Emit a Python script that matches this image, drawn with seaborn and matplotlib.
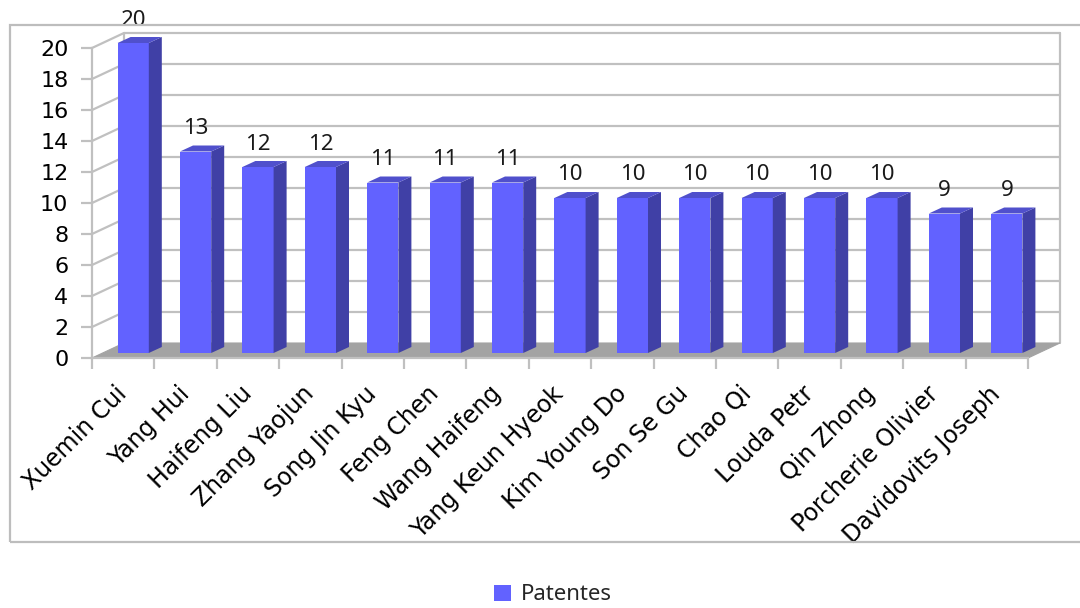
import numpy as np
import pandas as pd
import matplotlib
matplotlib.use("Agg")
import matplotlib.pyplot as plt
from matplotlib.patches import Polygon, Rectangle
from matplotlib.lines import Line2D
from matplotlib.transforms import ScaledTranslation
import seaborn as sns

inventors = ["Xuemin Cui", "Yang Hui", "Haifeng Liu", "Zhang Yaojun", "Song Jin Kyu",
             "Feng Chen", "Wang Haifeng", "Yang Keun Hyeok", "Kim Young Do", "Son Se Gu",
             "Chao Qi", "Louda Petr", "Qin Zhong", "Porcherie Olivier", "Davidovits Joseph"]
patents = [20, 13, 12, 12, 11, 11, 11, 10, 10, 10, 10, 10, 10, 9, 9]
y_ticks = list(range(0, 21, 2))
series_name = "Patentes"

df = pd.DataFrame({"inventor": inventors, "patents": patents})

sns.set_theme(style="white")
plt.rcParams["font.family"] = ["DejaVu Sans"]

W, H = 1080, 608
fig = plt.figure(figsize=(W / 100, H / 100), dpi=100)

# front plane of the 3D box, in pixels
x0_px, x1_px = 92, 1028
y0_px, y20_px = 358, 48
ax = fig.add_axes([x0_px / W, 1 - y0_px / H, (x1_px - x0_px) / W, (y0_px - y20_px) / H])
ax.set_facecolor("none")

n = len(inventors)
ax.set_xlim(-0.5, n - 0.5)
ax.set_ylim(0, 20)

px_x = n / (x1_px - x0_px)          # data units per pixel, horizontal
px_y = 20 / (y0_px - y20_px)        # data units per pixel, vertical

grid_c = "#C0C0C0"
grid_lw = 1.6

# depth of the walls (front -> back)
dx_w, dy_w = 32 * px_x, 15 * px_y
xl, xr = -0.5, n - 0.5
ymax = y_ticks[-1]

# floor
floor = Polygon([(xl, 0), (xr, 0), (xr + dx_w, dy_w), (xl + dx_w, dy_w)],
                closed=True, facecolor="#A3A3A3", edgecolor="#A3A3A3", lw=0.8,
                zorder=1, clip_on=False)
ax.add_patch(floor)

# back wall and left wall grid lines
for v in y_ticks:
    if v > 0:
        ax.add_line(Line2D([xl + dx_w, xr + dx_w], [v + dy_w, v + dy_w], color=grid_c,
                           lw=grid_lw, zorder=0.5, clip_on=False))
        ax.add_line(Line2D([xl, xl + dx_w], [v, v + dy_w], color=grid_c,
                           lw=grid_lw, zorder=0.5, clip_on=False))
for xx in (xl + dx_w, xr + dx_w):
    ax.add_line(Line2D([xx, xx], [dy_w, ymax + dy_w], color=grid_c, lw=grid_lw,
                       zorder=0.5, clip_on=False))

# bars (front faces) through seaborn
bar_w = 0.5
front_c = "#6262FF"
side_c = "#4040A6"
top_c = "#5050CC"
sns.barplot(data=df, x="inventor", y="patents", color=front_c, width=bar_w,
            saturation=1, ax=ax, zorder=3, legend=False)

# shift bars into the middle of the box and add side / top faces
off_x, off_y = 10 * px_x, 5 * px_y
dep_x, dep_y = 13 * px_x, 6 * px_y
for p in list(ax.patches):
    if not isinstance(p, Rectangle) or p.get_width() != bar_w:
        continue
    bx = p.get_x() + off_x
    bh = p.get_height()
    bw = p.get_width()
    p.set_x(bx)
    p.set_y(off_y)
    p.set_edgecolor("none")
    p.set_clip_on(False)
    side = Polygon([(bx + bw, off_y), (bx + bw + dep_x, off_y + dep_y),
                    (bx + bw + dep_x, bh + off_y + dep_y), (bx + bw, bh + off_y)],
                   closed=True, facecolor=side_c, edgecolor="none", zorder=3, clip_on=False)
    top = Polygon([(bx, bh + off_y), (bx + bw, bh + off_y),
                   (bx + bw + dep_x, bh + off_y + dep_y), (bx + dep_x, bh + off_y + dep_y)],
                  closed=True, facecolor=top_c, edgecolor="none", zorder=3, clip_on=False)
    ax.add_patch(side)
    ax.add_patch(top)

# value labels above each bar
for i, v in enumerate(patents):
    ax.annotate(str(v), xy=(i + off_x, v + off_y), xytext=(0, 9), textcoords="offset points",
                ha="center", va="bottom", fontsize=16, family=["Noto Sans"],
                color="#1a1a1a", annotation_clip=False)

# axes: front edges
for s in ("top", "right"):
    ax.spines[s].set_visible(False)
for s in ("left", "bottom"):
    ax.spines[s].set_color(grid_c)
    ax.spines[s].set_linewidth(grid_lw)
    ax.spines[s].set_zorder(2)

ax.set_yticks(y_ticks)
ax.set_yticklabels([str(v) for v in y_ticks])
ax.tick_params(axis="y", which="major", left=True, length=8, width=grid_lw, color=grid_c,
               labelsize=16, labelcolor="black", pad=9)
ax.set_xticks(range(n))
ax.set_xticklabels(inventors, rotation=45, ha="right", rotation_mode="anchor",
                   fontsize=17, color="black")
ax.tick_params(axis="x", which="major", bottom=False, length=0, pad=17)
shift = ScaledTranslation(-6 / 72, 0, fig.dpi_scale_trans)
for lab in ax.get_xticklabels():
    lab.set_transform(lab.get_transform() + shift)
ax.set_xticks(np.arange(-0.5, n, 1), minor=True)
ax.tick_params(axis="x", which="minor", bottom=True, length=8, width=grid_lw, color=grid_c)
ax.set_xlabel("")
ax.set_ylabel("")
ax.grid(False)

# outer chart frame
fig.patches.append(Rectangle((10 / W, 1 - 542 / H), 1080 / W, (542 - 25) / H,
                             transform=fig.transFigure, fill=False, edgecolor="#BDBDBD",
                             lw=1.6, zorder=0))

# legend
handle = Rectangle((0, 0), 1, 1, facecolor=front_c, edgecolor="none")
fig.legend([handle], [series_name], loc="center", bbox_to_anchor=(553 / W, 1 - 595 / H),
           frameon=False, handlelength=0.75, handleheight=0.75, handletextpad=0.45,
           prop={"family": "Noto Sans", "size": 16})

fig.savefig("out.png", dpi=100)
